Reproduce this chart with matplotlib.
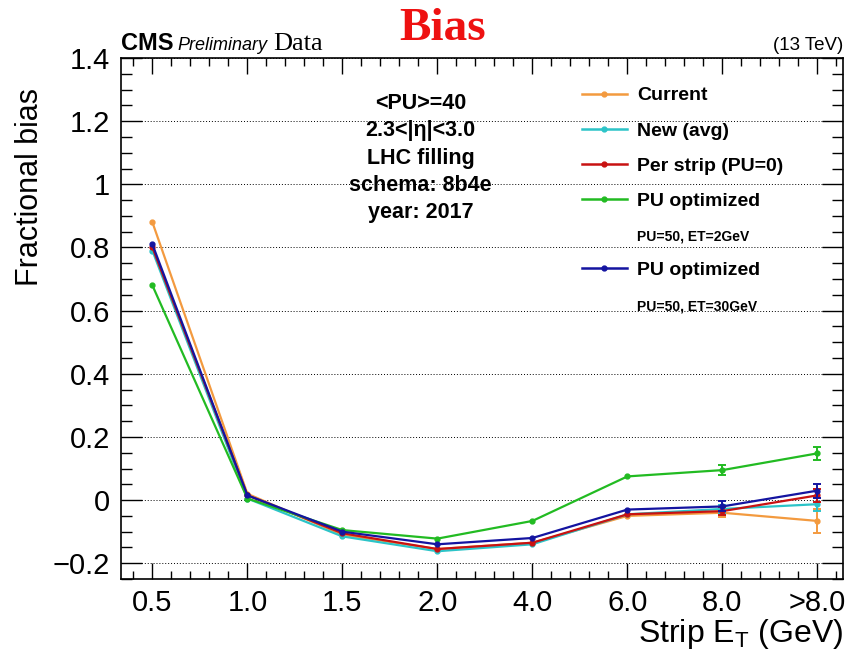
import matplotlib.pyplot as plt
from matplotlib.lines import Line2D
from matplotlib.patches import Rectangle
from matplotlib.ticker import MultipleLocator, AutoMinorLocator, FuncFormatter

plt.rcParams['font.family'] = 'Liberation Sans'

# strip ET bins
bins = ['0.5', '1.0', '1.5', '2.0', '4.0', '6.0', '8.0', '>8.0']

# fractional bias per calibration scheme
current    = [0.88, 0.02, -0.110, -0.155, -0.135, -0.050, -0.040, -0.066]
new_avg    = [0.79, 0.005, -0.115, -0.162, -0.140, -0.045, -0.028, -0.013]
per_strip  = [0.80, 0.015, -0.105, -0.155, -0.135, -0.045, -0.035, 0.015]
pu_opt_2   = [0.68, 0.005, -0.095, -0.122, -0.066, 0.075, 0.095, 0.148]
pu_opt_30  = [0.81, 0.015, -0.100, -0.140, -0.120, -0.030, -0.020, 0.030]

# statistical errors (only the last two bins are visibly non-zero)
err_current   = [0, 0, 0, 0, 0, 0, 0.015, 0.037]
err_new       = [0, 0, 0, 0, 0, 0, 0.012, 0.020]
err_per_strip = [0, 0, 0, 0, 0, 0, 0.012, 0.020]
err_pu_2      = [0, 0, 0, 0, 0, 0, 0.016, 0.020]
err_pu_30     = [0, 0, 0, 0, 0, 0, 0.016, 0.022]

series = [
    (current, err_current, '#f39a3f', 'Current'),
    (new_avg, err_new, '#2cc4c8', 'New (avg)'),
    (per_strip, err_per_strip, '#c81212', 'Per strip (PU=0)'),
    (pu_opt_2, err_pu_2, '#22bb22', 'PU optimized'),
    (pu_opt_30, err_pu_30, '#1414a0', 'PU optimized'),
]

fig = plt.figure(figsize=(8.56, 6.61), dpi=100)
ax = fig.add_axes([0.1414, 0.124, 0.8435, 0.7882])

x = list(range(len(bins)))
for vals, errs, col, lab in series:
    ax.plot(x, vals, color=col, lw=1.6, marker='o', ms=3.5, zorder=3)
    idx = [i for i in x if errs[i] > 0]
    ax.errorbar([x[i] for i in idx], [vals[i] for i in idx], yerr=[errs[i] for i in idx],
                fmt='none', ecolor=col, capsize=3, elinewidth=1.4, capthick=1.4, zorder=3)

ax.set_xlim(-0.33, 7.27)
ax.set_ylim(-0.25, 1.4)
ax.set_xticks(x)
ax.set_xticklabels(bins)
ax.xaxis.set_minor_locator(AutoMinorLocator(5))
ax.yaxis.set_major_locator(MultipleLocator(0.2))
ax.yaxis.set_minor_locator(MultipleLocator(0.05))
ax.yaxis.set_major_formatter(FuncFormatter(
    lambda v, p: f'{round(v, 2) + 0.0:g}'.replace('-', '\u2212')))

ax.tick_params(which='both', direction='in', top=True, right=True, width=1, labelsize=21)
ax.tick_params(axis='x', which='major', length=11.5, pad=7)
ax.tick_params(axis='x', which='minor', length=6)
ax.tick_params(axis='y', which='major', length=15, pad=8)
ax.tick_params(axis='y', which='minor', length=8)
for s in ax.spines.values():
    s.set_linewidth(1.2)

ax.grid(axis='y', which='major', color='k', ls=(0, (1, 2)), lw=0.7, zorder=0.5)

ax.set_xlabel('Strip E$_\\mathregular{T}$ (GeV)', fontsize=23, loc='right')
ax.xaxis.set_label_coords(1.0, -0.072)
ax.set_ylabel('Fractional bias', fontsize=22, loc='top')
ax.yaxis.set_label_coords(-0.105, 0.942)

# white panes for info text and legend
ax.add_patch(Rectangle((0.234, 0.666), 0.373, 0.282, transform=ax.transAxes,
                       facecolor='white', edgecolor='none', zorder=1))
ax.add_patch(Rectangle((0.625, 0.478), 0.346, 0.499, transform=ax.transAxes,
                       facecolor='white', edgecolor='none', zorder=1))

ax.text(0.415, 0.808, '<PU>=40\n2.3<|η|<3.0\nLHC filling\nschema: 8b4e\nyear: 2017',
        transform=ax.transAxes, ha='center', va='center', multialignment='center',
        fontsize=15.5, fontweight='bold', linespacing=1.38, zorder=4)

handles = []
labels = []
for i, (vals, errs, col, lab) in enumerate(series):
    handles.append(Line2D([], [], color=col, lw=1.8, marker='o', ms=3.5))
    labels.append(lab)
    if i == 3:
        handles.append(Line2D([], [], color='none'))
        labels.append('PU=50, ET=2GeV')
handles.append(Line2D([], [], color='none'))
labels.append('PU=50, ET=30GeV')

leg = ax.legend(handles, labels, loc='upper left',
                bbox_to_anchor=(578 / 856, 1 - 83 / 661), bbox_transform=fig.transFigure,
                frameon=False, prop=dict(weight='bold', size=14),
                handlelength=2.3, handletextpad=0.55, labelspacing=0.9,
                borderpad=0.2, borderaxespad=0)
leg.set_zorder(5)
leg.get_texts()[4].set_fontsize(10)
leg.get_texts()[6].set_fontsize(10)

# header
fig.text(121 / 856, 1 - 50 / 661, 'CMS', fontsize=17, fontweight='bold', va='baseline')
fig.text(177 / 856, 1 - 50 / 661, 'Preliminary', fontsize=13, style='italic', va='baseline')
fig.text(273 / 856, 1 - 50 / 661, 'Data', fontsize=19, family='Liberation Serif', va='baseline')
fig.text(843 / 856, 1 - 50 / 661, '(13 TeV)', fontsize=13.5, ha='right', va='baseline')
fig.text(443 / 856, 1 - 40 / 661, 'Bias', fontsize=34, fontweight='bold', color='#ee1111',
         family='Liberation Serif', ha='center', va='baseline')

plt.savefig('out.png', dpi=100)
